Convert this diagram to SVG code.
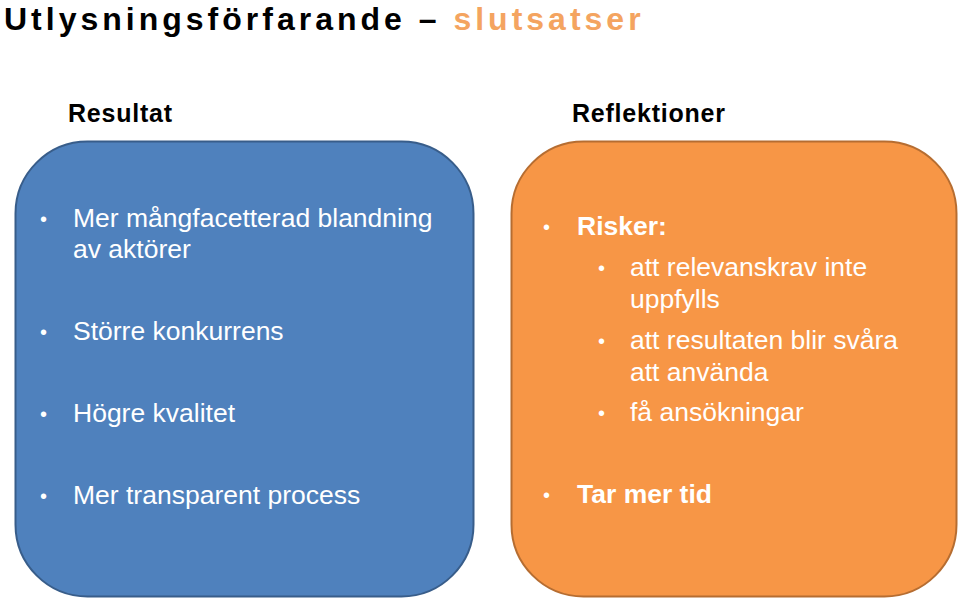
<svg xmlns="http://www.w3.org/2000/svg" width="960" height="601" viewBox="0 0 960 601">
<style>
text{font-family:"Liberation Sans",Arial,sans-serif}
.t{font-size:26.5px;fill:#fff}
.d{font-size:20px;fill:#fff}
.b{font-weight:bold}
.h{font-size:25px;fill:#000;font-weight:bold}
</style>
<rect width="960" height="601" fill="#fff"/>
<text x="4" y="30" font-size="32" font-weight="bold" letter-spacing="4" fill="#000">Utlysningsförfarande – <tspan fill="#f4a460">slutsatser</tspan></text>
<text class="h" x="68" y="122" textLength="104">Resultat</text>
<text class="h" x="572" y="122" textLength="153">Reflektioner</text>
<g id="resultat">
<rect x="15.5" y="141.5" width="458" height="455" rx="72" fill="#4f81bd" stroke="#385d8a" stroke-width="2"/>
<text class="d" x="40" y="226">•</text><text class="t" x="73" y="227">Mer mångfacetterad blandning</text>
<text class="t" x="73" y="258">av aktörer</text>
<text class="d" x="40" y="339">•</text><text class="t" x="73" y="340">Större konkurrens</text>
<text class="d" x="40" y="421">•</text><text class="t" x="73" y="422">Högre kvalitet</text>
<text class="d" x="40" y="503">•</text><text class="t" x="73" y="504">Mer transparent process</text>
</g>
<g id="reflektioner">
<rect x="511.5" y="141.5" width="445" height="455" rx="72" fill="#f79646" stroke="#b66d31" stroke-width="2"/>
<text class="d" x="543" y="234">•</text><text class="t b" x="577" y="235">Risker:</text>
<text class="d" x="598" y="275">•</text><text class="t" x="630" y="276">att relevanskrav inte</text>
<text class="t" x="630" y="308">uppfylls</text>
<text class="d" x="598" y="348">•</text><text class="t" x="630" y="349">att resultaten blir svåra</text>
<text class="t" x="630" y="381">att använda</text>
<text class="d" x="598" y="420">•</text><text class="t" x="630" y="421">få ansökningar</text>
<text class="d" x="543" y="502">•</text><text class="t b" x="577" y="503">Tar mer tid</text>
</g>
<g id="connectors"/>
</svg>
